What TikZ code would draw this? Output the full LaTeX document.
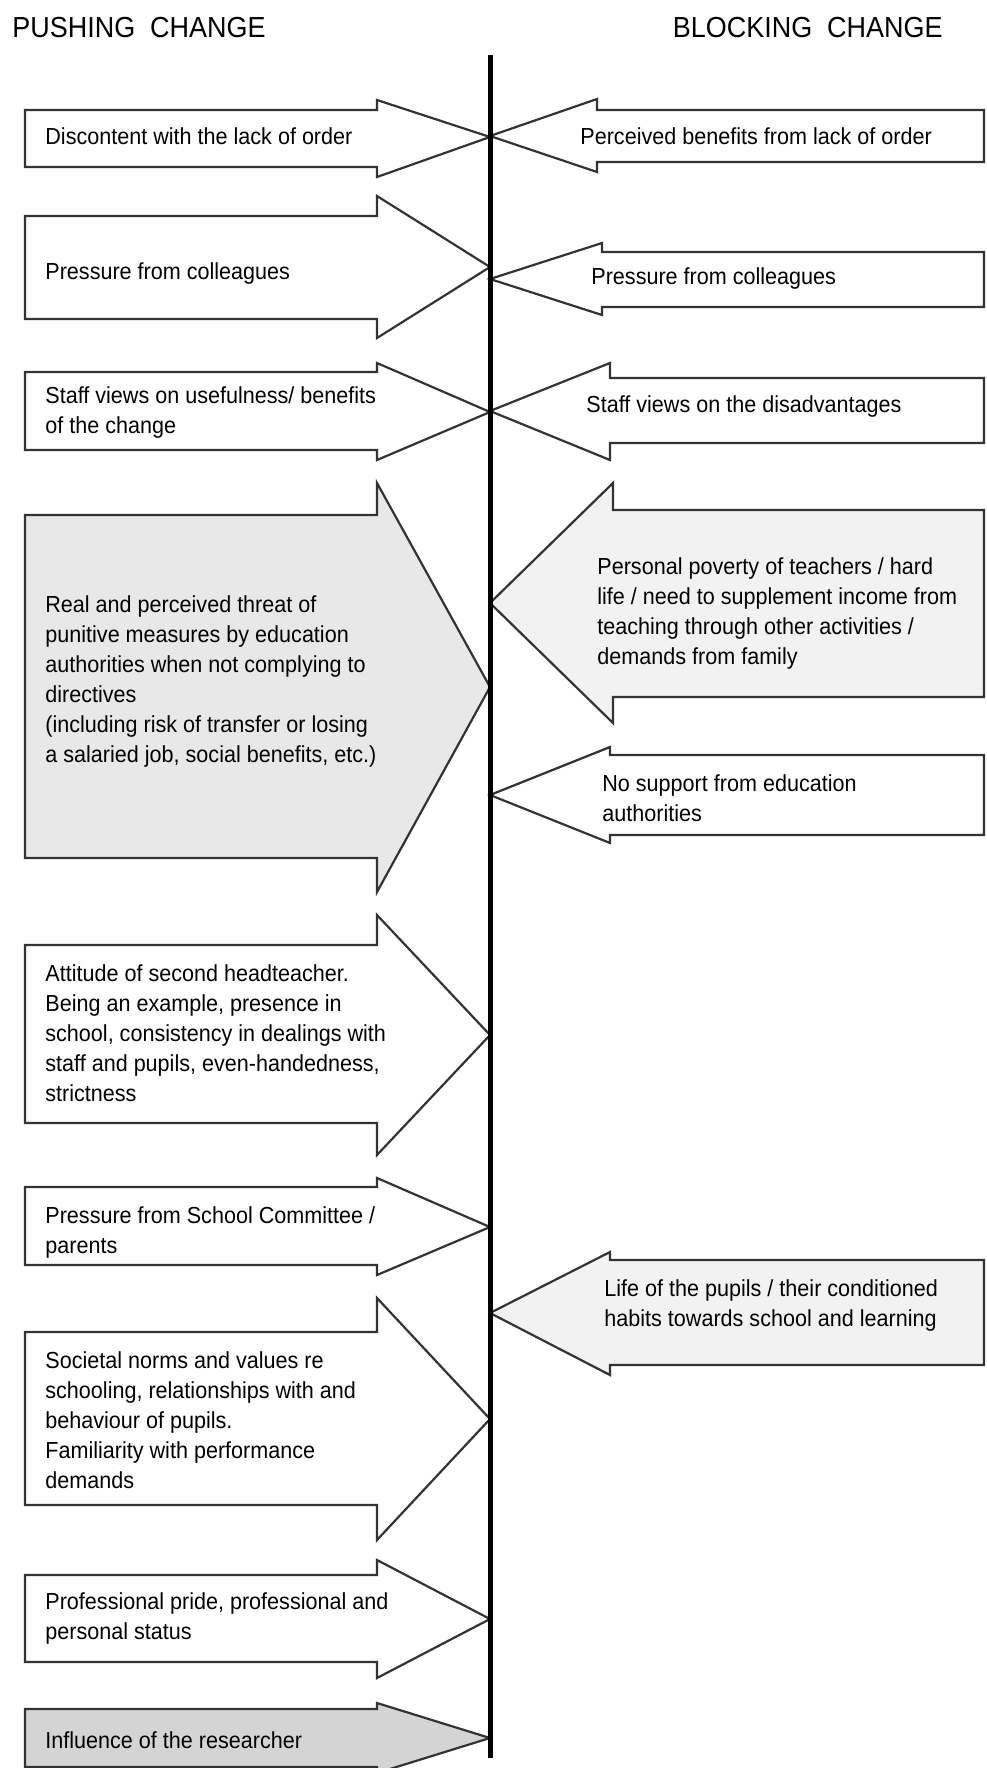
\documentclass[tikz,border=0pt]{standalone}
\usepackage{fontspec}
\setmainfont[FakeStretch=0.93]{Liberation Sans}
\usetikzlibrary{calc}

\begin{document}
\begin{tikzpicture}[
        x=0.5pt, y=-0.5pt,
        line join=miter,
        force/.style={draw=black!80, line width=1.1pt, fill=white},
        spine/.style={draw=black, line width=2.2pt},
        label/.style={inner sep=0pt, align=left, anchor=west,
            font=\fontsize{11.6}{15}\selectfont},
        heading/.style={inner sep=0pt, font=\fontsize{14.5}{17}\selectfont}
    ]

        % page
        \path[use as bounding box, clip] (0,0) rectangle (986,1768);

        % the line where the forces meet
        \coordinate (top) at (490.5,55);
        \coordinate (bot) at (490.5,1758);

        % forces pushing change (left)
        \path[force]
            (25,110) -- (377,110) -- (377,100) -- (490,137)
            -- (377,177) -- (377,167) -- (25,167) -- cycle;
        \path[force]
            (25,216) -- (377,216) -- (377,196) -- (490,267)
            -- (377,338) -- (377,319) -- (25,319) -- cycle;
        \path[force]
            (25,372) -- (377,372) -- (377,363) -- (490,412)
            -- (377,460) -- (377,450) -- (25,450) -- cycle;
        \path[force, fill=black!9]
            (25,515) -- (377,515) -- (377,483) -- (490,687)
            -- (377,892) -- (377,858) -- (25,858) -- cycle;
        \path[force]
            (25,945) -- (377,945) -- (377,915) -- (490,1035)
            -- (377,1155) -- (377,1123) -- (25,1123) -- cycle;
        \path[force]
            (25,1187) -- (377,1187) -- (377,1178) -- (490,1227)
            -- (377,1275) -- (377,1265) -- (25,1265) -- cycle;
        \path[force]
            (25,1332) -- (377,1332) -- (377,1298) -- (490,1419)
            -- (377,1540) -- (377,1505) -- (25,1505) -- cycle;
        \path[force]
            (25,1575) -- (377,1575) -- (377,1560) -- (490,1619)
            -- (377,1678) -- (377,1662) -- (25,1662) -- cycle;
        \path[force, fill=black!17]
            (25,1709) -- (377,1709) -- (377,1703) -- (490,1738)
            -- (377,1773) -- (377,1767) -- (25,1767) -- cycle;

        % forces blocking change (right)
        \path[force]
            (984,110) -- (597,110) -- (597,99) -- (490,136)
            -- (597,172) -- (597,162) -- (984,162) -- cycle;
        \path[force]
            (984,252) -- (602,252) -- (602,243) -- (490,279)
            -- (602,315) -- (602,307) -- (984,307) -- cycle;
        \path[force]
            (984,378) -- (610,378) -- (610,363) -- (490,411)
            -- (610,460) -- (610,443) -- (984,443) -- cycle;
        \path[force, fill=black!5]
            (984,510) -- (613,510) -- (613,483) -- (490,603)
            -- (613,723) -- (613,697) -- (984,697) -- cycle;
        \path[force]
            (984,755) -- (610,755) -- (610,747) -- (490,795)
            -- (610,843) -- (610,835) -- (984,835) -- cycle;
        \path[force, fill=black!5]
            (984,1260) -- (610,1260) -- (610,1252) -- (490,1313)
            -- (610,1375) -- (610,1365) -- (984,1365) -- cycle;

        \draw[spine] (top) -- (bot);

        % headings
        \node[heading, anchor=base west] (push) at (12,37)
            {PUSHING\ \ CHANGE};
        \node[heading, anchor=base east] (block) at (943,37)
            {BLOCKING\ \ CHANGE};

        % labels, left
        \node[label] (p1) at (45,136) {Discontent with the lack of order};
        \node[label] (p2) at (45,273) {Pressure from colleagues};
        \node[label] (p3) at (45,412)
            {Staff views on usefulness/ benefits\\of the change};
        \node[label] (p4) at (45,681)
            {Real and perceived threat of\\punitive measures by education\\authorities when not complying to\\directives\\(including risk of transfer or losing\\a salaried job, social benefits, etc.)};
        \node[label] (p5) at (45,1033)
            {Attitude of second headteacher.\\Being an example, presence in\\school, consistency in dealings with\\staff and pupils, even-handedness,\\strictness};
        \node[label] (p6) at (45,1232)
            {Pressure from School Committee /\\parents};
        \node[label] (p7) at (45,1420)
            {Societal norms and values re\\schooling, relationships with and\\behaviour of pupils.\\Familiarity with performance\\demands};
        \node[label] (p8) at (45,1618)
            {Professional pride, professional and\\personal status};
        \node[label] (p9) at (45,1740) {Influence of the researcher};

        % labels, right
        \node[label] (b1) at (580,136) {Perceived benefits from lack of order};
        \node[label] (b2) at (591,278) {Pressure from colleagues};
        \node[label] (b3) at (586,406) {Staff views on the disadvantages};
        \node[label] (b4) at (597,613)
            {Personal poverty of teachers / hard\\life / need to supplement income from\\teaching through other activities /\\demands from family};
        \node[label] (b5) at (602,798)
            {No support from education\\authorities};
        \node[label] (b6) at (604,1305)
            {Life of the pupils / their conditioned\\habits towards school and learning};

    \end{tikzpicture}
\end{document}
